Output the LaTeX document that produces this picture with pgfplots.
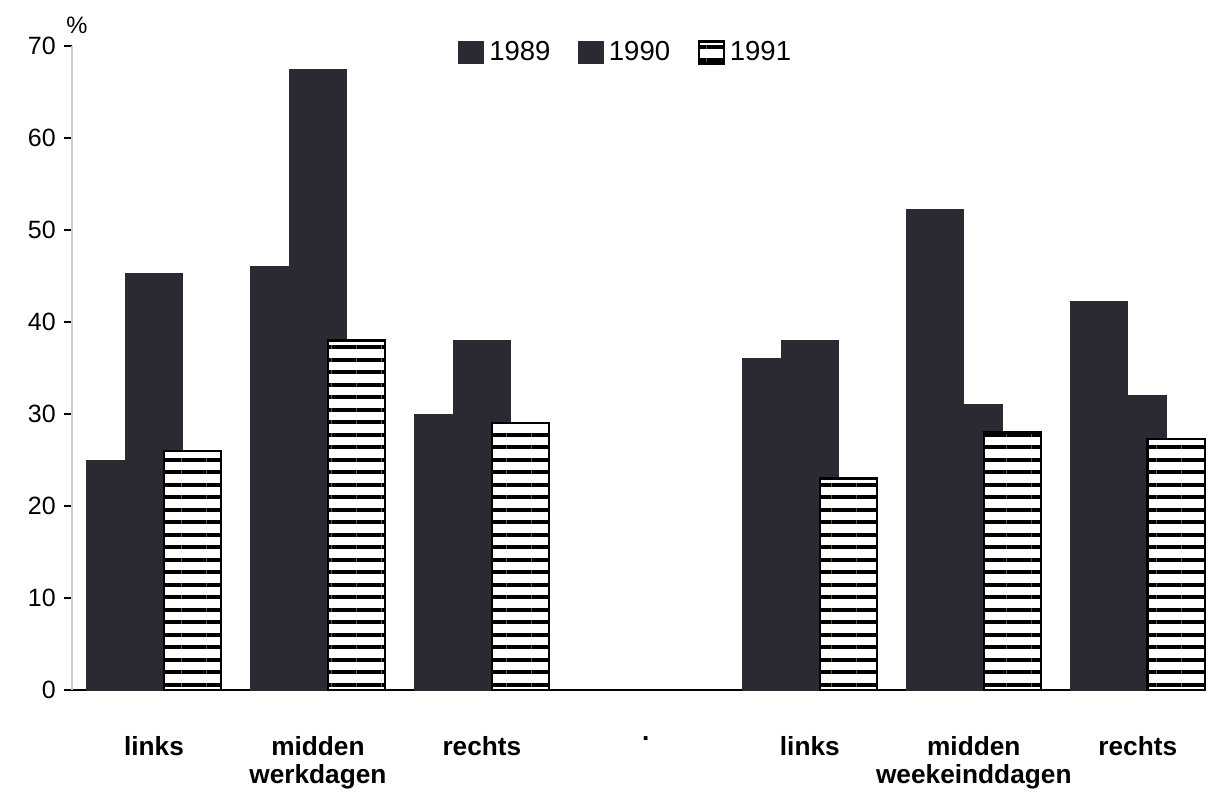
\documentclass[border=0pt]{standalone}
\usepackage{fontspec}
\setmainfont{Liberation Sans}
\usepackage{pgfplots}
\pgfplotsset{compat=1.18}
\usetikzlibrary{patterns.meta}

\definecolor{barfill}{RGB}{42,42,50}

\begin{document}
\begin{tikzpicture}
% page frame (1 px = 0.4pt)
\path (-28.8pt,-40.4pt) rectangle (456pt,276pt);
\begin{axis}[
    scale only axis,
    width=453.2pt, height=257.6pt,
    xmin=-0.5, xmax=6.41,
    ymin=0, ymax=70,
    axis x line*=bottom,
    axis y line*=left,
    x axis line style={line width=0.9pt},
    y axis line style={gray!40, line width=0.5pt},
    ybar, bar width=0.35,
    every axis plot/.append style={
        legend image code/.code={\draw[##1] (-2.5pt,-4.4pt) rectangle (7.5pt,4.4pt);}
    },
    xtick={0,1,2,3,4,5,6},
    xticklabels={links, {midden\\werkdagen}, rechts, ., links, {midden\\weekeinddagen}, rechts},
    xtick style={draw=none},
    xticklabel style={align=center, anchor=north, yshift=-12pt,
        font=\fontsize{10.5}{11.2}\selectfont\bfseries},
    ytick={0,10,...,70},
    ytick style={draw=black, line width=0.5pt},
    tick align=outside,
    major tick length=3pt,
    yticklabel style={font=\fontsize{10}{12}\selectfont},
    /pgf/number format/assume math mode=true,
    legend style={draw=none, fill=none, at={(0.49,0.99)}, anchor=center,
        font=\fontsize{11}{13}\selectfont, legend columns=-1,
        /tikz/every even column/.append style={column sep=9pt}},
    clip=false,
]

% 1989
\addplot[fill=barfill, draw=barfill, bar shift=-0.235] coordinates {
    (0,25) (1,46) (2,30) (4,36) (5,52.2) (6,42.2)
};
% 1990
\addplot[fill=barfill, draw=barfill, bar shift=0] coordinates {
    (0,45.3) (1,67.5) (2,38) (4,38) (5,31) (6,32)
};
% 1991
\addplot[fill=white, draw=black, line width=0.9pt, bar shift=0.235,
    postaction={pattern={Lines[angle=0, distance=5pt, line width=1.7pt]}, pattern color=black}]
    coordinates {
    (0,26) (1,38) (2,29) (4,23) (5,28) (6,27.3)
};
\legend{1989, 1990, 1991}

\node[font=\fontsize{9.5}{10}\selectfont] at (rel axis cs:0,1) [xshift=2pt, yshift=8.4pt] {\%};
\end{axis}
\end{tikzpicture}
\end{document}
